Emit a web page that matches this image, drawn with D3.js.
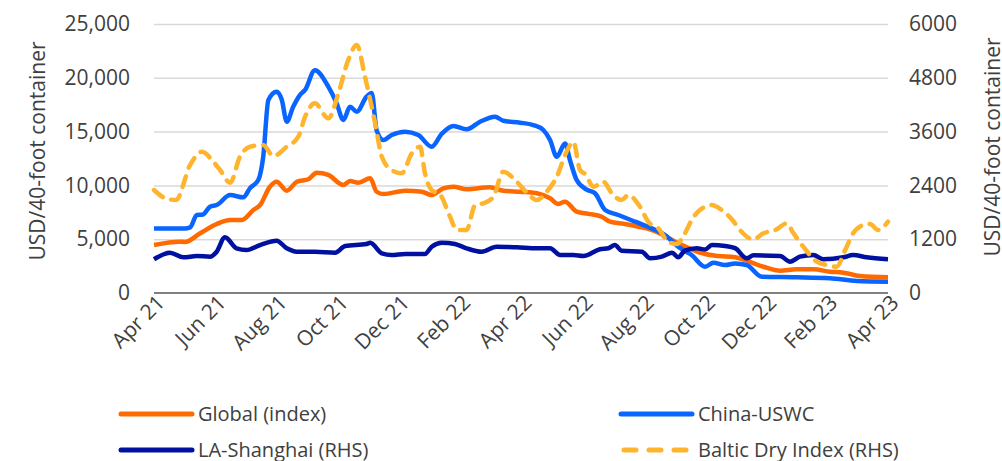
<!DOCTYPE html>
<html>
<head>
<meta charset="utf-8">
<script src="https://cdn.jsdelivr.net/npm/d3@7"></script>
<style>
  body { margin: 0; background: #fff; }
  svg text { font-family: "Open Sans", sans-serif; fill: #404040; }
</style>
</head>
<body>
<svg id="chart" width="1002" height="461"></svg>
<script>
// x values are months since Apr 2021
let tickLabels = ['Apr 21', 'Jun 21', 'Aug 21', 'Oct 21', 'Dec 21', 'Feb 22', 'Apr 22',
                  'Jun 22', 'Aug 22', 'Oct 22', 'Dec 22', 'Feb 23', 'Apr 23'];
let leftTicks = [0, 5000, 10000, 15000, 20000, 25000];
let rightTicks = [0, 1200, 2400, 3600, 4800, 6000];

// Global (index), USD/40ft, left axis
let globalIdx = [
  [0, 4460], [0.85, 4770], [1.01, 4740], [1.51, 5550], [2.05, 6410], [2.49, 6780], [2.87, 6780],
  [3.25, 7710], [3.47, 8180], [3.79, 9880], [4.01, 10340], [4.34, 9510], [4.67, 10340], [5.05, 10570],
  [5.32, 11180], [5.70, 10970], [6.19, 10040], [6.41, 10410], [6.68, 10250], [7.07, 10660], [7.28, 9410],
  [7.50, 9200], [8.21, 9510], [8.76, 9410], [9.08, 9110], [9.46, 9730], [9.79, 9880], [10.22, 9640],
  [10.98, 9820], [11.42, 9510], [11.97, 9410], [12.52, 9270], [12.95, 8800], [13.22, 8270], [13.44, 8490],
  [13.82, 7560], [14.20, 7350], [14.64, 7090], [14.91, 6630], [15.40, 6410], [15.84, 6160], [16.27, 5860],
  [16.71, 5300], [17.14, 4620], [17.58, 4060], [18.02, 3620], [18.45, 3440], [19.00, 3320], [19.38, 3000],
  [19.93, 2440], [20.47, 2070], [21.01, 2200], [21.56, 2200], [22.10, 1980], [22.54, 1890], [23.08, 1580],
  [24.00, 1460]
];

// China-USWC, left axis
let chinaUswc = [
  [0, 6000], [1.01, 6000], [1.18, 6100], [1.40, 7250], [1.60, 7300], [1.83, 8020], [2.05, 8180],
  [2.49, 9100], [2.92, 8890], [3.14, 9750], [3.41, 10500], [3.57, 12640], [3.74, 17940], [4.01, 18700],
  [4.18, 17940], [4.34, 15920], [4.55, 17300], [4.77, 18400], [4.94, 18870], [5.26, 20700], [5.70, 19170],
  [5.97, 17640], [6.19, 16080], [6.41, 17300], [6.63, 16850], [6.95, 18250], [7.12, 18580], [7.28, 15100],
  [7.50, 14220], [7.77, 14680], [8.21, 14990], [8.64, 14680], [9.08, 13600], [9.41, 14800], [9.79, 15520],
  [10.22, 15210], [10.66, 15920], [11.15, 16390], [11.42, 16010], [11.97, 15830], [12.40, 15610],
  [12.73, 15150], [12.95, 14220], [13.17, 12670], [13.44, 13900], [13.60, 12360], [13.82, 10500],
  [14.15, 9600], [14.42, 9270], [14.75, 7710], [15.18, 7250], [15.73, 6630], [16.27, 6010], [16.71, 5390],
  [17.14, 4300], [17.58, 3530], [18.02, 2440], [18.29, 2820], [18.67, 2600], [19.00, 2750], [19.38, 2600],
  [19.87, 1510], [21.01, 1460], [22.10, 1370], [22.98, 1120], [24.00, 1050]
];

// LA-Shanghai, right axis
let laShanghai = [
  [0, 752], [0.52, 899], [0.96, 796], [1.40, 825], [1.83, 810], [2.05, 921], [2.32, 1242], [2.70, 997],
  [3.02, 959], [3.47, 1070], [4.01, 1166], [4.34, 997], [4.67, 921], [5.26, 921], [5.92, 899], [6.25, 1048],
  [6.95, 1093], [7.07, 1122], [7.45, 885], [7.77, 847], [8.21, 870], [8.86, 870], [9.08, 1032], [9.41, 1122],
  [9.84, 1093], [10.22, 997], [10.71, 921], [11.20, 1032], [11.86, 1019], [12.52, 997], [12.95, 997],
  [13.28, 847], [13.71, 847], [14.04, 825], [14.58, 975], [14.86, 997], [15.07, 1070], [15.29, 944],
  [15.95, 921], [16.22, 774], [16.61, 810], [16.94, 899], [17.14, 796], [17.36, 944], [17.75, 997],
  [18.02, 970], [18.24, 1070], [18.67, 1048], [19.00, 1000], [19.38, 774], [19.60, 840], [20.47, 825],
  [20.80, 698], [21.12, 810], [21.56, 847], [21.88, 752], [22.54, 796], [22.86, 847], [23.30, 796],
  [24.00, 752]
];

// Baltic Dry Index, right axis
let balticDry = [
  [0, 2297], [0.38, 2111], [0.72, 2074], [1.18, 2854], [1.57, 3151], [1.94, 2928], [2.16, 2743],
  [2.49, 2460], [2.81, 3040], [3.14, 3263], [3.57, 3300], [3.90, 3055], [4.34, 3263], [4.72, 3486],
  [4.94, 3932], [5.26, 4230], [5.70, 3895], [6.03, 4453], [6.35, 5196], [6.63, 5530], [6.90, 4823],
  [7.23, 3784], [7.45, 3040], [7.77, 2743], [8.10, 2669], [8.43, 3115], [8.70, 3263], [8.86, 2669],
  [9.08, 2297], [9.35, 2200], [9.68, 1701], [9.90, 1405], [10.22, 1405], [10.50, 1962], [10.77, 2000],
  [11.10, 2148], [11.42, 2705], [11.86, 2482], [12.19, 2237], [12.52, 2074], [12.84, 2260], [13.17, 2594],
  [13.49, 3151], [13.71, 3374], [13.93, 2743], [14.10, 2650], [14.37, 2371], [14.69, 2482], [14.97, 2223],
  [15.29, 2074], [15.51, 2185], [15.89, 1924], [16.16, 1590], [16.49, 1443], [16.81, 1144], [17.09, 1093],
  [17.36, 1331], [17.58, 1628], [17.79, 1813], [18.24, 1962], [18.56, 1851], [18.90, 1640], [19.16, 1405],
  [19.60, 1197], [19.93, 1331], [20.36, 1420], [20.69, 1554], [20.91, 1331], [21.23, 1032], [21.67, 698],
  [22.00, 624], [22.32, 587], [22.60, 959], [22.86, 1331], [23.19, 1516], [23.41, 1539], [23.68, 1405],
  [24.00, 1590]
];

let series = [
  {name: 'Global (index)', data: globalIdx, color: '#ff6a00', axis: 'left', dash: null},
  {name: 'China-USWC', data: chinaUswc, color: '#0a64ff', axis: 'left', dash: null},
  {name: 'LA-Shanghai (RHS)', data: laShanghai, color: '#0010a0', axis: 'right', dash: null},
  {name: 'Baltic Dry Index (RHS)', data: balticDry, color: '#ffb42e', axis: 'right', dash: '11,9'},
];

let pLeft = 154, pRight = 888, pTop = 24, pBottom = 293;

let svg = d3.select('#chart');

let x = d3.scaleLinear().domain([0, 24]).range([pLeft, pRight]);
let yL = d3.scaleLinear().domain([0, 25000]).range([pBottom, pTop]);
let yR = d3.scaleLinear().domain([0, 6000]).range([pBottom, pTop]);

// gridlines
svg.append('g')
    .attr('transform', `translate(${pLeft},0)`)
    .call(d3.axisLeft(yL).tickValues(leftTicks.slice(1)).tickSize(-(pRight - pLeft)).tickFormat(''))
    .call(g => g.select('.domain').remove())
    .selectAll('line')
    .attr('stroke', '#d9d9d9')
    .attr('stroke-width', 1.5);

// left axis labels
svg.append('g')
    .attr('transform', `translate(${pLeft - 24},0)`)
    .call(d3.axisLeft(yL).tickValues(leftTicks).tickSize(0).tickFormat(d3.format(',')))
    .call(g => g.select('.domain').remove())
    .selectAll('text')
    .attr('x', 0)
    .style('font-size', '21px')
    .style('fill', '#404040');

// right axis labels
svg.append('g')
    .attr('transform', `translate(${pRight + 21},0)`)
    .call(d3.axisRight(yR).tickValues(rightTicks).tickSize(0).tickFormat(d3.format('d')))
    .call(g => g.select('.domain').remove())
    .selectAll('text')
    .attr('x', 0)
    .style('font-size', '21px')
    .style('fill', '#404040');

// x axis labels
svg.append('g')
    .selectAll('text')
    .data(tickLabels)
    .enter()
    .append('text')
    .attr('text-anchor', 'end')
    .attr('transform', (d, i) => `translate(${x(i * 2) + 12},${pBottom + 11}) rotate(-45)`)
    .style('font-size', '21px')
    .text(d => d);

// axis titles
svg.append('text')
    .attr('transform', `translate(45,151) rotate(-90)`)
    .attr('text-anchor', 'middle')
    .style('font-size', '21px')
    .text('USD/40-foot container');

svg.append('text')
    .attr('transform', `translate(1000,147) rotate(-90)`)
    .attr('text-anchor', 'middle')
    .style('font-size', '21px')
    .text('USD/40-foot container');

// lines
series.forEach(s => {
  let yy = s.axis === 'left' ? yL : yR;
  let line = d3.line()
      .x(d => x(d[0]))
      .y(d => yy(d[1]))
      .curve(d3.curveMonotoneX);
  svg.append('path')
      .datum(s.data)
      .attr('d', line)
      .attr('fill', 'none')
      .attr('stroke', s.color)
      .attr('stroke-width', 4.5)
      .attr('stroke-linejoin', 'round')
      .attr('stroke-linecap', s.dash ? 'round' : 'butt')
      .attr('stroke-dasharray', s.dash);
});

// baseline
svg.append('line')
    .attr('x1', pLeft)
    .attr('x2', pRight)
    .attr('y1', pBottom)
    .attr('y2', pBottom)
    .attr('stroke', '#808080')
    .attr('stroke-width', 2);

// legend
let legendPos = [[121, 414], [621, 414], [121, 450], [621, 450]];
let legend = svg.append('g')
    .selectAll('g')
    .data(series)
    .enter()
    .append('g')
    .attr('transform', (d, i) => `translate(${legendPos[i][0]},${legendPos[i][1]})`);

legend.append('line')
    .attr('x1', d => d.dash ? 3 : 0)
    .attr('x2', 71)
    .attr('stroke', d => d.color)
    .attr('stroke-width', 5)
    .attr('stroke-linecap', 'round')
    .attr('stroke-dasharray', d => d.dash ? '12,13' : null);

legend.append('text')
    .attr('x', 77)
    .attr('dy', '0.35em')
    .style('font-size', '20px')
    .text(d => d.name);
</script>
</body>
</html>
